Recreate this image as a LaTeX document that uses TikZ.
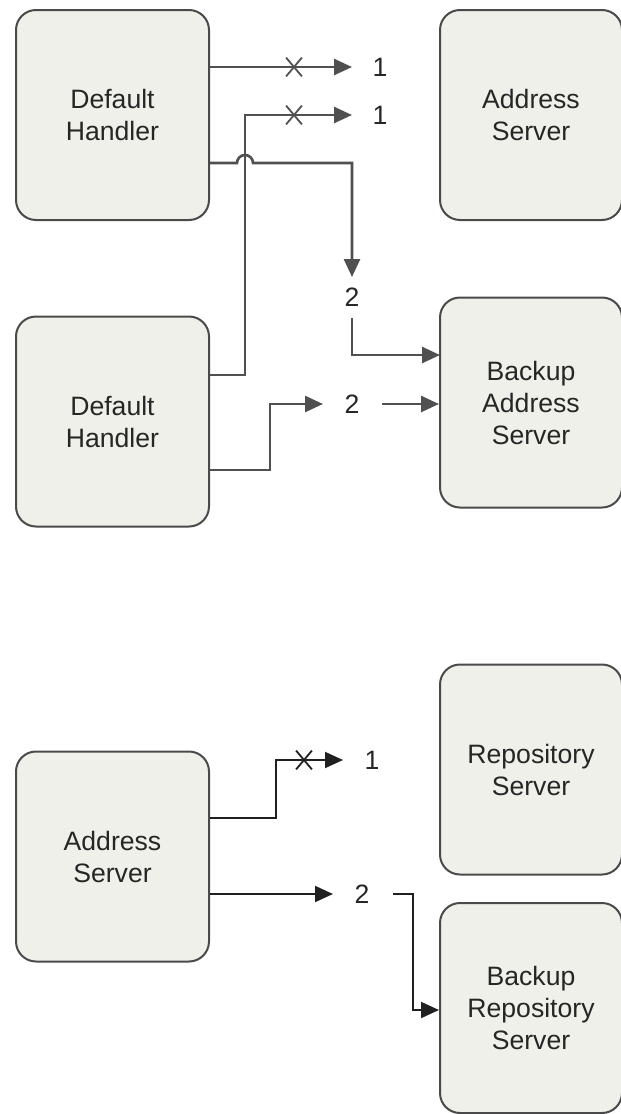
\documentclass[tikz,border=0pt]{standalone}
\usepackage{fontspec}
\setmainfont{Liberation Sans}
\usepackage{tikz}
\usetikzlibrary{arrows.meta,shapes.misc}
\definecolor{boxfill}{HTML}{F0F0EA}
\definecolor{boxline}{HTML}{4A4A4A}
\definecolor{wiregray}{HTML}{505050}
\definecolor{wiredark}{HTML}{202020}

\begin{document}
\begin{tikzpicture}[x=0.5pt,y=-0.5pt]
        \tikzset{box/.style = {draw=boxline, fill=boxfill, rounded corners=10pt, line width=1pt, minimum width=96.5pt, minimum height=105pt, align=center, text=black!85, font=\fontsize{13.3}{16}\selectfont}}
        \tikzset{rbox/.style = {box, minimum width=91pt}}
        \tikzset{num/.style = {text=black!85, font=\fontsize{13.3}{16}\selectfont, inner sep=0pt}}
        \tikzset{cut/.style = {cross out, draw=wiregray, line width=0.9pt, minimum width=7pt, minimum height=8.5pt, inner sep=0pt}}
        \tikzset{edge/.style = {-{Triangle[length=9pt,width=8pt]}, draw=wiregray, line width=1.3pt}}
        \tikzset{dedge/.style = {edge, draw=wiredark, line width=1pt}}
        \useasboundingbox (0,0) rectangle (621,1114);
        % vertices
        \node[box] (dh1) at (112.5,115) {Default\\Handler};
        \node[rbox] (as1) at (531,115) {Address\\Server};
        \node[box] (dh2) at (112.5,421.5) {Default\\Handler};
        \node[rbox] (bas) at (531,402.5) {Backup\\Address\\Server};
        \node[box] (as2) at (112.5,856.5) {Address\\Server};
        \node[rbox] (rs) at (531,769.5) {Repository\\Server};
        \node[rbox] (brs) at (531,1008) {Backup\\Repository\\Server};
        % labels
        \node[num] (one1) at (380,67) {1};
        \node[num] (one2) at (380,115) {1};
        \node[num] (two1) at (352,297) {2};
        \node[num] (two2) at (352,404) {2};
        \node[num] (one3) at (372,760) {1};
        \node[num] (two3) at (362,894) {2};
        % bends and tips
        \coordinate (t1) at (352,67);
        \coordinate (j2) at (245,375);
        \coordinate (t2) at (352,115);
        \coordinate (h3) at (245,163);
        \coordinate (t3) at (352,277);
        \coordinate (s4) at (352,318);
        \coordinate (e4) at (440,355);
        \coordinate (j5) at (270,470);
        \coordinate (t5) at (323,404);
        \coordinate (s6) at (382,404);
        \coordinate (j7) at (276,818);
        \coordinate (t7) at (343,760);
        \coordinate (t8) at (333,894);
        \coordinate (s9) at (393,894);
        \coordinate (j9) at (413,1010);
        %edges
        \draw[edge] (dh1.east |- t1) -- (t1);
        \draw[edge] (dh2.east |- j2) -- (j2) |- (t2);
        \draw[edge] (dh1.east |- h3) -- ([xshift=-4pt]h3) arc[start angle=180, end angle=0, radius=4pt] -| (t3);
        \draw[edge] (s4) |- (e4);
        \draw[edge] (dh2.east |- j5) -- (j5) |- (t5);
        \draw[edge] (s6) -- (bas.west |- s6);
        \draw[dedge] (as2.east |- j7) -- (j7) |- (t7);
        \draw[dedge] (as2.east |- t8) -- (t8);
        \draw[dedge] (s9) -| (j9) -- (brs.west |- j9);
        % crossed out
        \node[cut] (x1) at (294,67) {};
        \node[cut] (x2) at (294,115) {};
        \node[cut, draw=wiredark] (x3) at (304,760) {};
\end{tikzpicture}
\end{document}
